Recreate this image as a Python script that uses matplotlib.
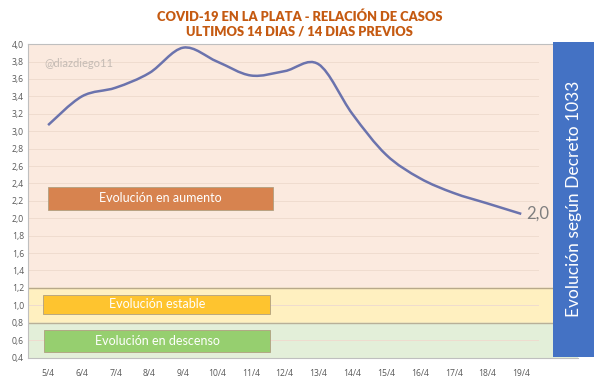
import numpy as np
import matplotlib
matplotlib.use('Agg')
import matplotlib.pyplot as plt
from matplotlib.path import Path
from matplotlib.patches import PathPatch, Rectangle

plt.rcParams['font.family'] = ['Lato', 'DejaVu Sans']

# datos
dias = ['5/4', '6/4', '7/4', '8/4', '9/4', '10/4', '11/4', '12/4',
        '13/4', '14/4', '15/4', '16/4', '17/4', '18/4', '19/4']
relacion = [3.07, 3.40, 3.50, 3.67, 3.96, 3.80, 3.64, 3.69,
            3.77, 3.20, 2.73, 2.46, 2.29, 2.17, 2.05]
yticks = [0.4, 0.6, 0.8, 1.0, 1.2, 1.4, 1.6, 1.8, 2.0, 2.2, 2.4,
          2.6, 2.8, 3.0, 3.2, 3.4, 3.6, 3.8, 4.0]


# curva suavizada tipo Excel (bezier)
def smooth_path(x, y):
    p = np.column_stack([x, y]).astype(float)
    n = len(p)
    verts = [p[0]]
    codes = [Path.MOVETO]
    for i in range(n - 1):
        p0 = p[i - 1] if i > 0 else p[i]
        p3 = p[i + 2] if i + 2 < n else p[i + 1]
        c1 = p[i] + (p[i + 1] - p0) / 6
        c2 = p[i + 1] - (p3 - p[i]) / 6
        verts += [c1, c2, p[i + 1]]
        codes += [Path.CURVE4] * 3
    return Path(verts, codes)


def coma(v):
    return f'{v:.1f}'.replace('.', ',')


fig = plt.figure(figsize=(5.99, 3.84), dpi=100)
ax = fig.add_axes([0.047, 0.069, 0.918, 0.816])

x = np.arange(len(dias))
ax.set_xlim(-0.59, 15.68)
ax.set_ylim(0.4, 4.0)

# bandas
ax.axhspan(1.2, 4.0, color='#fbeadf', zorder=0)
ax.axhspan(0.8, 1.2, color='#fff0c0', zorder=0)
ax.axhspan(0.4, 0.8, color='#e3efd9', zorder=0)
ax.axhline(1.2, color='#b8a98a', lw=1.0, zorder=1)
ax.axhline(0.8, color='#b8b098', lw=1.0, zorder=1)

for v in yticks[1:-1]:
    ax.plot([-0.59, 14.5], [v, v], color='#efdccf', lw=0.7, zorder=0.5)

ax.add_patch(PathPatch(smooth_path(x, relacion), facecolor='none',
                       edgecolor='#6b73ad', lw=1.8, zorder=3))
ax.text(x[-1] + 0.15, relacion[-1], coma(relacion[-1]),
        fontsize=12, color='#7f7f7f', va='center', ha='left', zorder=4)

# cajas de texto
cajas = [
    (0.0, 2.10, 6.66, 0.26, '#d7834f', 'Evolución en aumento'),
    (-0.14, 0.90, 6.71, 0.22, '#fec42f', 'Evolución estable'),
    (-0.11, 0.46, 6.68, 0.26, '#96cf6f', 'Evolución en descenso'),
]
for x0, y0, w, h, c, t in cajas:
    ax.add_patch(Rectangle((x0, y0), w, h, facecolor=c, edgecolor='#b0a080',
                           lw=0.6, zorder=2))
    ax.text(x0 + w / 2, y0 + h / 2, t, color='white', fontsize=9,
            ha='center', va='center', zorder=3)

ax.text(-0.1, 3.78, '@diazdiego11', color='#c4bbb4', fontsize=8,
        va='center', ha='left', zorder=2)

ax.set_xticks(x)
ax.set_xticklabels(dias, fontfamily='Open Sans')
ax.set_yticks(yticks)
ax.set_yticklabels([coma(v) for v in yticks], fontfamily='Open Sans')
ax.tick_params(axis='both', length=0, labelsize=6.2, colors='#595959')
ax.tick_params(axis='x', pad=8)
ax.tick_params(axis='y', pad=3)
for s in ['left', 'bottom', 'top']:
    ax.spines[s].set_color('#bfbfbf')
    ax.spines[s].set_linewidth(0.8)
ax.spines['right'].set_visible(False)

# caja azul
fig.add_artist(Rectangle((553 / 599, 1 - 357 / 384), 41 / 599, 315 / 384,
                         transform=fig.transFigure, facecolor='#4472c4',
                         edgecolor='none', zorder=5))
fig.text(573.5 / 599, 1 - 199 / 384, 'Evolución según Decreto 1033',
         rotation=90, color='white', fontsize=12.5, ha='center', va='center',
         zorder=6)

fig.text(0.5, 1 - 17 / 384, 'COVID-19 EN LA PLATA - RELACIÓN DE CASOS',
         color='#c55a11', fontsize=9.3, fontweight='heavy', ha='center', va='center')
fig.text(0.5, 1 - 31 / 384, 'ULTIMOS 14 DIAS / 14 DIAS PREVIOS',
         color='#c55a11', fontsize=9.3, fontweight='heavy', ha='center', va='center')

fig.savefig('out.png', dpi=100)
